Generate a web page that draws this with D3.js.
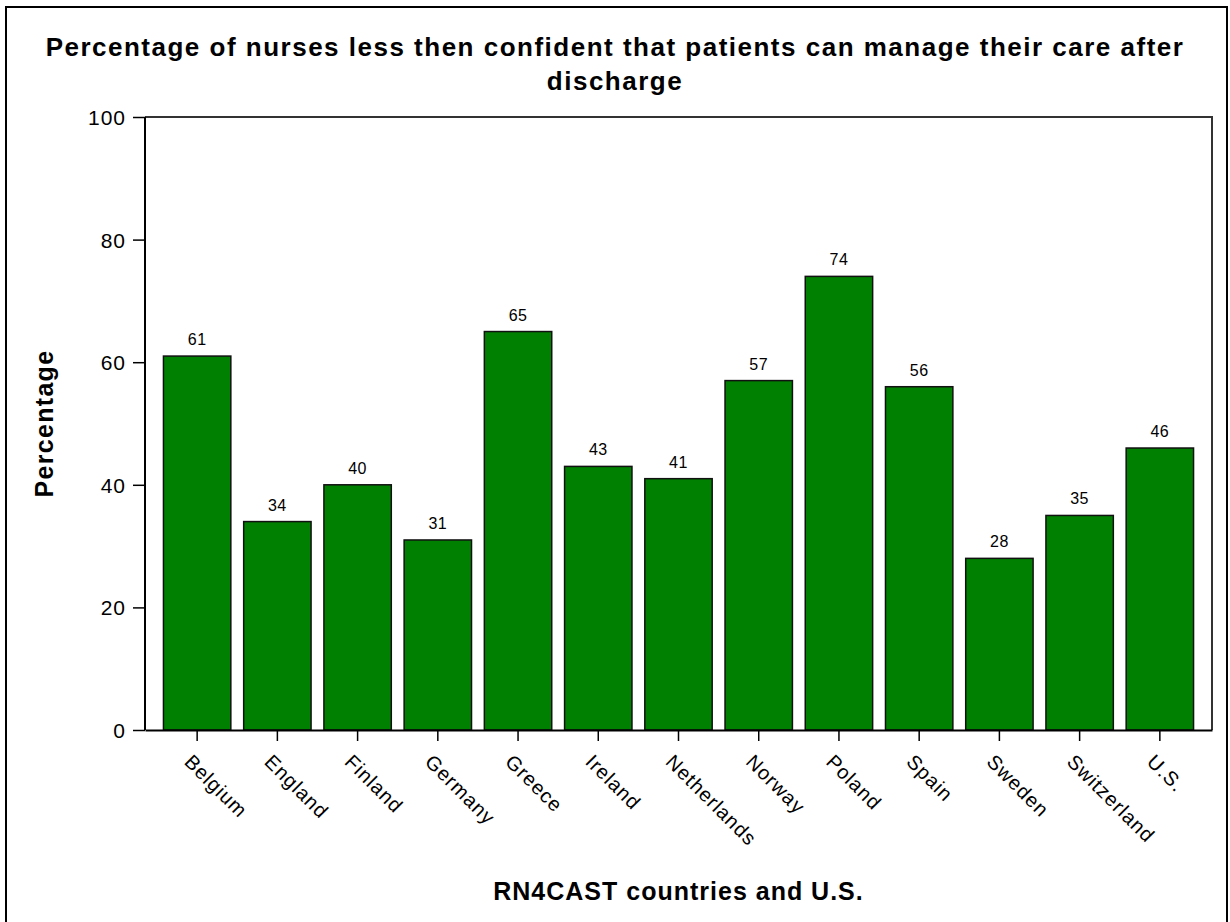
<!DOCTYPE html>
<html>
<meta charset="utf-8">
<script src="https://d3js.org/d3.v7.js"></script>
<style>
  body { margin: 0; background: #fff; }
  text { font-family: "Liberation Sans", Arial, sans-serif; fill: #000; }
</style>
<body>
<div id="my_dataviz"></div>
</body>
<script type="text/javascript">
  // data
  var countries = ["Belgium", "England", "Finland", "Germany", "Greece", "Ireland", "Netherlands",
                   "Norway", "Poland", "Spain", "Sweden", "Switzerland", "U.S."]
  var percentages = [61, 34, 40, 31, 65, 43, 41, 57, 74, 56, 28, 35, 46]
  var yTicks = [0, 20, 40, 60, 80, 100]
  var titleLines = ["Percentage of nurses less then confident that patients can manage their care after", "discharge"]

  var W = 1230, H = 922
  var margin = {top: 117, right: 18, bottom: 192, left: 145}
  var width = W - margin.left - margin.right,
      height = H - margin.top - margin.bottom

  var svg = d3.select("#my_dataviz")
    .append("svg")
      .attr("width", W)
      .attr("height", H)

  // outer frame
  svg.append("rect")
    .attr("x", 6).attr("y", 7)
    .attr("width", 1221).attr("height", 930)
    .attr("fill", "none")
    .attr("stroke", "#000")
    .attr("stroke-width", 2)

  // title
  svg.append("g").selectAll("text")
    .data(titleLines)
    .enter()
    .append("text")
      .attr("x", W / 2)
      .attr("y", function(d, i) { return 56 + i * 34 })
      .attr("text-anchor", "middle")
      .style("font-size", "26px")
      .style("font-weight", "bold")
      .style("letter-spacing", "1.5px")
      .text(function(d) { return d })

  var g = svg.append("g")
    .attr("transform", "translate(" + margin.left + "," + margin.top + ")")

  var x = d3.scaleBand()
    .range([0, width])
    .domain(countries)
    .paddingInner(0.16)
    .paddingOuter(0.23)

  var y = d3.scaleLinear()
    .domain([0, 100])
    .range([height, 0])

  // frame top/right
  g.append("path")
    .attr("d", "M0,0H" + width + "V" + height)
    .attr("fill", "none")
    .attr("stroke", "#333")
    .attr("stroke-width", 2)

  // bars
  g.selectAll(".bar")
    .data(countries)
    .enter()
    .append("rect")
      .attr("class", "bar")
      .attr("x", function(d) { return x(d) })
      .attr("y", function(d, i) { return y(percentages[i]) })
      .attr("width", x.bandwidth())
      .attr("height", function(d, i) { return height - y(percentages[i]) })
      .attr("fill", "#008000")
      .attr("stroke", "#111")
      .attr("stroke-width", 1.5)

  // value labels
  g.selectAll(".val")
    .data(countries)
    .enter()
    .append("text")
      .attr("class", "val")
      .attr("x", function(d) { return x(d) + x.bandwidth() / 2 })
      .attr("y", function(d, i) { return y(percentages[i]) - 11 })
      .attr("text-anchor", "middle")
      .style("font-size", "16px")
      .style("letter-spacing", "0.5px")
      .text(function(d, i) { return percentages[i] })

  // y axis
  var yAxis = g.append("g")
    .call(d3.axisLeft(y).tickValues(yTicks).tickSize(12).tickPadding(7))
  yAxis.select(".domain").attr("stroke-width", 2).attr("d", "M0," + height + "V0")
  yAxis.selectAll(".tick line").attr("stroke-width", 1.5)
  yAxis.selectAll(".tick text")
    .style("font-size", "21px")
    .style("letter-spacing", "1px")
    .attr("dy", "0.36em")
    .attr("fill", "#000")

  // x axis
  var xAxis = g.append("g")
    .attr("transform", "translate(0," + height + ")")
    .call(d3.axisBottom(x).tickSize(11).tickSizeOuter(0))
  xAxis.select(".domain").attr("stroke-width", 2)
  xAxis.selectAll(".tick line").attr("stroke-width", 1.5)
  xAxis.selectAll(".tick text")
    .attr("text-anchor", "start")
    .attr("y", 0)
    .attr("dy", "0")
    .attr("transform", "translate(-14,33) rotate(45)")
    .style("font-size", "20px")
    .style("letter-spacing", "1px")
    .attr("fill", "#000")

  // axis titles
  svg.append("text")
    .attr("transform", "translate(53," + (margin.top + height / 2) + ") rotate(-90)")
    .attr("text-anchor", "middle")
    .style("font-size", "25px")
    .style("font-weight", "bold")
    .style("letter-spacing", "1.3px")
    .text("Percentage")

  svg.append("text")
    .attr("x", margin.left + width / 2)
    .attr("y", 900)
    .attr("text-anchor", "middle")
    .style("font-size", "25px")
    .style("font-weight", "bold")
    .style("letter-spacing", "1px")
    .text("RN4CAST countries and U.S.")
</script>
</html>
